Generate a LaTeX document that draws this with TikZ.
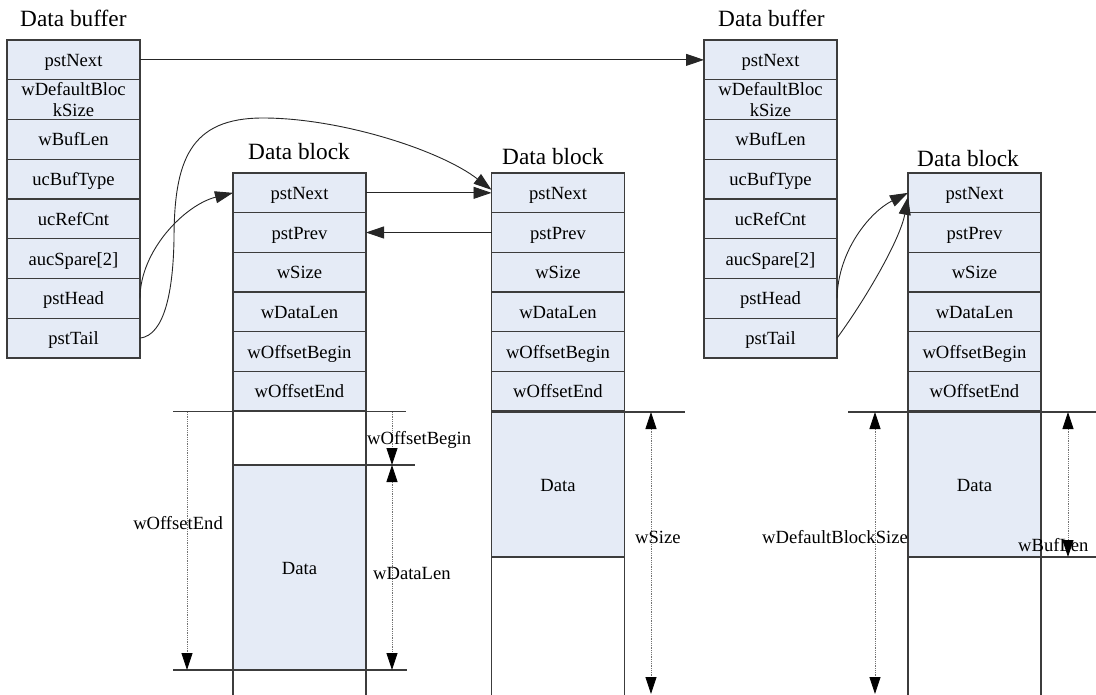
\documentclass[tikz,border=0pt]{standalone}
\usepackage{fontspec}
\setmainfont{Liberation Serif}
\usetikzlibrary{arrows.meta}
\definecolor{cellfill}{RGB}{229,235,246}
\definecolor{edge}{RGB}{60,60,60}
\newcommand\cellfont{\fontsize{18.6}{21}\selectfont}
\newcommand\headfont{\fontsize{23.3}{26}\selectfont}
\tikzset{
  cellbase/.style={draw=edge, fill=cellfill, line width=1.1pt, minimum width=133pt,
    minimum height=39.7pt, inner sep=0pt, outer sep=0pt, font=\cellfont, align=center},
  cell/.style={cellbase, text height=13pt, text depth=0pt},
  title/.style={font=\headfont, inner sep=0pt, anchor=base west},
  lab/.style={font=\cellfont, inner sep=0pt},
  guide/.style={draw=edge, line width=1.1pt},
  tip/.tip={Triangle[length=18pt,width=12pt]},
  dimtip/.tip={Triangle[length=17pt,width=11pt,color=black]},
  conn/.style={draw=black!85, line width=0.9pt, -tip},
  dim/.style={draw=black!55, line width=0.8pt, densely dotted},
  dimone/.style={dim, -dimtip},
  dimtwo/.style={dim, dimtip-dimtip},
}
\begin{document}
\begin{tikzpicture}[x=1pt,y=-1pt]
\useasboundingbox (0,0) rectangle (1096,695);

% extension lines below the blocks
\draw[guide] (173,411.5) -- (406,411.5);
\draw[guide] (233,411) -- (233,695);
\draw[guide] (366,411) -- (366,695);
\draw[guide] (366,465) -- (415,465);
\draw[guide] (173,670) -- (407,670);
\draw[guide] (491.5,412) -- (685,412);
\draw[guide] (491.5,411) -- (491.5,695);
\draw[guide] (624.5,411) -- (624.5,695);
\draw[guide] (848,412) -- (1096,412);
\draw[guide] (908,411) -- (908,695);
\draw[guide] (1041,411) -- (1041,695);
\draw[guide] (1041,557) -- (1096,557);

% payload areas
\node[cell, minimum height=205pt] (Adata) at (299.5,567.5) {Data};
\node[cell, minimum height=145pt] (Bdata) at (558,484.5) {Data};
\node[cell, minimum height=145pt] (Cdata) at (974.5,484.5) {Data};

% data buffer headers
\foreach \p/\cx in {L/73.5, R/770.5} {
  \foreach \t/\i in {pstNext/1, wBufLen/3, ucBufType/4, ucRefCnt/5,
                     aucSpare[2]/6, pstHead/7, pstTail/8}
    \node[cell] (\p\i) at (\cx,{40+39.75*(\i-0.5)}) {\t};
  \node[cellbase] (\p2) at (\cx,99.6) {wDefaultBloc\\kSize};
}

% data block headers
\foreach \p/\cx in {A/299.5, B/558, C/974.5} {
  \foreach \t [count=\i] in {pstNext,pstPrev,wSize,wDataLen,wOffsetBegin,wOffsetEnd}
    \node[cell] (\p\i) at (\cx,{173+39.67*(\i-0.5)}) {\t};
}

% titles
\node[title] (tL) at (20,27) {Data buffer};
\node[title] (tR) at (718,27) {Data buffer};
\node[title] (tA) at (248,160) {Data block};
\node[title] (tB) at (502,165) {Data block};
\node[title] (tC) at (917,167) {Data block};

% size annotations
\coordinate (oeT) at (187,412);   \coordinate (oeB) at (187,670);
\coordinate (obT) at (392,412);   \coordinate (obB) at (392,465);
\coordinate (dlT) at (392,465);   \coordinate (dlB) at (392,670);
\coordinate (wsT) at (651,412);   \coordinate (wsB) at (651,694);
\coordinate (dbT) at (875,412);   \coordinate (dbB) at (875,694);
\coordinate (blT) at (1068,412);  \coordinate (blB) at (1068,557);
\draw[dimone] (oeT) -- (oeB);
\draw[dimone] (obT) -- (obB);
\draw[dimtwo] (dlT) -- (dlB);
\draw[dimtwo] (wsT) -- (wsB);
\draw[dimtwo] (dbT) -- (dbB);
\draw[dimtwo] (blT) -- (blB);

\node[lab, anchor=base east] (lOE) at (223,529) {wOffsetEnd};
\node[lab, anchor=base west] (lOB) at (367,444) {wOffsetBegin};
\node[lab, anchor=base west] (lDL) at (373,579) {wDataLen};
\node[lab, anchor=base west] (lWS) at (635,543) {wSize};
\node[lab, anchor=base east] (lDB) at (908,543) {wDefaultBlockSize};
\node[lab, anchor=base west] (lBL) at (1018,551) {wBufLen};

% pointers
\draw[conn] (L1.east) -- (R1.west);
\draw[conn] (L7.east) .. controls +(0,-48) and +(-48,12) .. (A1.west);
\draw[conn] (L8.east) .. controls +(25,-3) and (173,290) .. (174,240)
  .. controls (174,160) and (190,118) .. (263,118)
  .. controls (340,118) and (440,150) .. ([yshift=3pt]B1.west);
\draw[conn] (A1.east) -- (B1.west);
\draw[conn] (B2.west) -- (A2.east);
\draw[conn] (R7.east) .. controls +(1,-48) and (870,212) .. (C1.west);
\draw[conn] (R8.east) .. controls (865,300) and (900,240) .. ([yshift=-4pt]C1.west);
\end{tikzpicture}
\end{document}
